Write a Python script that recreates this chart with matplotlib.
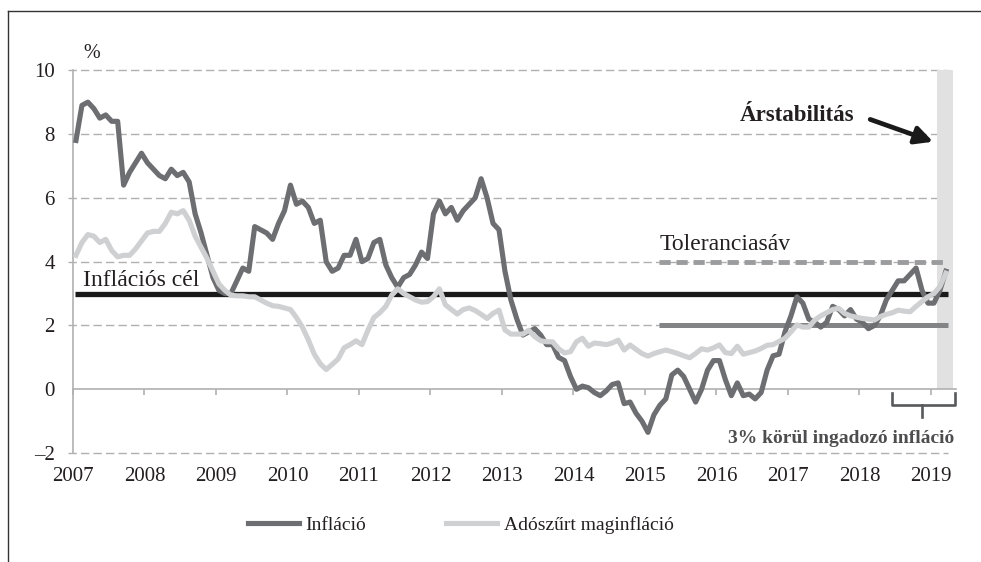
import matplotlib
matplotlib.use("Agg")
import matplotlib.pyplot as plt  # noqa: E402
from matplotlib.lines import Line2D  # noqa: E402
import pandas as pd  # noqa: E402

plt.rcParams["font.family"] = ["Liberation Serif", "DejaVu Serif"]

INK = "#231f20"
DARK = "#6d6e71"
LIGHT = "#cfd0d2"
GRID = "#b0b0b0"
BAND = "#e1e1e1"

MONTHS = pd.period_range("2007-01", "2019-03", freq="M")

INFLATION = [
    7.8, 8.9, 9.0, 8.8, 8.5, 8.6, 8.4, 8.4, 6.4, 6.8, 7.1, 7.4,          # 2007
    7.1, 6.9, 6.7, 6.6, 6.9, 6.7, 6.8, 6.5, 5.5, 4.9, 4.2, 3.5,          # 2008
    3.1, 3.0, 3.0, 3.4, 3.8, 3.7, 5.1, 5.0, 4.9, 4.7, 5.2, 5.6,          # 2009
    6.4, 5.8, 5.9, 5.7, 5.2, 5.3, 4.0, 3.7, 3.8, 4.2, 4.2, 4.7,          # 2010
    4.0, 4.1, 4.6, 4.7, 3.9, 3.5, 3.2, 3.5, 3.6, 3.9, 4.3, 4.1,          # 2011
    5.5, 5.9, 5.5, 5.7, 5.3, 5.6, 5.8, 6.0, 6.6, 6.0, 5.2, 5.0,          # 2012
    3.7, 2.8, 2.2, 1.7, 1.8, 1.9, 1.7, 1.4, 1.4, 1.0, 0.9, 0.4,          # 2013
    0.0, 0.1, 0.05, -0.1, -0.2, -0.05, 0.15, 0.2, -0.45, -0.4, -0.75, -1.0,  # 2014
    -1.35, -0.8, -0.5, -0.3, 0.45, 0.6, 0.4, 0.0, -0.4, 0.0, 0.6, 0.9,   # 2015
    0.9, 0.3, -0.2, 0.2, -0.2, -0.15, -0.3, -0.1, 0.6, 1.05, 1.1, 1.8,   # 2016
    2.3, 2.9, 2.7, 2.2, 2.1, 1.95, 2.1, 2.6, 2.5, 2.3, 2.5, 2.2,         # 2017
    2.1, 1.9, 2.0, 2.3, 2.8, 3.1, 3.4, 3.4, 3.6, 3.8, 3.1, 2.7,          # 2018
    2.7, 3.1, 3.7,                                                        # 2019
]

CORE = [
    4.2, 4.6, 4.85, 4.8, 4.6, 4.7, 4.35, 4.15, 4.2, 4.2, 4.4, 4.65,      # 2007
    4.9, 4.95, 4.95, 5.2, 5.55, 5.5, 5.6, 5.3, 4.8, 4.45, 4.1, 3.7,      # 2008
    3.3, 3.1, 2.95, 2.93, 2.93, 2.9, 2.9, 2.8, 2.7, 2.62, 2.6, 2.55,     # 2009
    2.5, 2.25, 1.95, 1.55, 1.1, 0.8, 0.62, 0.78, 0.95, 1.3, 1.4, 1.52,   # 2010
    1.4, 1.85, 2.25, 2.4, 2.6, 2.95, 3.15, 3.0, 2.9, 2.8, 2.73, 2.75,    # 2011
    2.9, 3.15, 2.65, 2.5, 2.36, 2.5, 2.55, 2.47, 2.35, 2.22, 2.38, 2.48, # 2012
    1.86, 1.73, 1.73, 1.73, 1.85, 1.65, 1.52, 1.49, 1.49, 1.27, 1.14, 1.18,  # 2013
    1.49, 1.6, 1.35, 1.45, 1.43, 1.4, 1.45, 1.54, 1.23, 1.39, 1.25, 1.12,    # 2014
    1.04, 1.12, 1.18, 1.23, 1.18, 1.12, 1.05, 0.99, 1.12, 1.27, 1.23, 1.3,   # 2015
    1.39, 1.15, 1.12, 1.35, 1.1, 1.15, 1.2, 1.28, 1.38, 1.4, 1.5, 1.6,       # 2016
    1.8, 2.02, 1.95, 1.95, 2.17, 2.3, 2.4, 2.5, 2.54, 2.38, 2.3, 2.26,       # 2017
    2.22, 2.2, 2.17, 2.28, 2.35, 2.4, 2.48, 2.45, 2.43, 2.6, 2.75, 2.9,      # 2018
    3.0, 3.22, 3.64,                                                          # 2019
]

TARGET = 3.0
TOL_LOW, TOL_HIGH = 2.0, 4.0
TOL_START = 2015.2
LINE_START, LINE_END = 2007.03, 2019.24
STABILITY_BAND = (2019.09, 2019.31)
YEARS = list(range(2007, 2020))
Y_TICKS = [-2, 0, 2, 4, 6, 8, 10]
GRID_LEVELS = [-2, 2, 4, 6, 8, 10]


def main():
    x = MONTHS.year + (MONTHS.month - 0.5) / 12

    fig = plt.figure(figsize=(9.81, 5.62), dpi=100)
    ax = fig.add_axes([0.0744, 0.1881, 0.9001, 0.6982])
    ax.set_xlim(2007, 2019.35)
    ax.set_ylim(-2.1, 10.2)

    for side in ("top", "right"):
        ax.spines[side].set_visible(False)
    ax.spines["bottom"].set_position(("data", 0))
    ax.spines["bottom"].set_color(GRID)
    ax.spines["bottom"].set_linewidth(1.2)
    ax.spines["left"].set_bounds(-2, 10)
    ax.spines["left"].set_color(GRID)
    ax.spines["left"].set_linewidth(1.2)

    ax.set_xticks(YEARS)
    ax.set_xticklabels([str(y) for y in YEARS])
    ax.tick_params(axis="x", direction="out", length=4, width=1.2, color=GRID,
                   pad=52, labelsize=15, labelcolor=INK)
    ax.set_yticks(Y_TICKS)
    ax.set_yticklabels([f"{v}".replace("-", "\u2013") for v in Y_TICKS])
    ax.tick_params(axis="y", length=0, pad=13, labelsize=15, labelcolor=INK)

    ax.hlines(GRID_LEVELS, 2006.93, LINE_END, colors=GRID, lw=1,
              linestyles=[(0, (6, 3))], zorder=0, clip_on=False)

    ax.fill_between(STABILITY_BAND, 0, 10, color=BAND, lw=0, zorder=1)

    ax.plot([LINE_START, LINE_END], [TARGET, TARGET], color="#1a1a1a", lw=3.8,
            solid_capstyle="butt", zorder=2)
    ax.plot([TOL_START, LINE_END], [TOL_HIGH, TOL_HIGH], color="#9b9c9e", lw=3.5,
            ls=(0, (2.3, 1.2)), zorder=2)
    ax.plot([TOL_START, LINE_END], [TOL_LOW, TOL_LOW], color="#838486", lw=3.6,
            solid_capstyle="butt", zorder=2)

    l_inf, = ax.plot(x, INFLATION, color=DARK, lw=3.7, solid_joinstyle="round",
                     label="Infláció", zorder=4)
    l_core, = ax.plot(x, CORE, color=LIGHT, lw=3.7, solid_joinstyle="round",
                      label="Adószűrt maginfláció", zorder=5)

    ax.text(2007.14, 10.39, "%", fontsize=14.5, color=INK, va="baseline")
    ax.text(2007.136, 3.24, "Inflációs cél", fontsize=17, color=INK, va="baseline")
    ax.text(2015.21, 4.37, "Toleranciasáv", fontsize=17, color=INK, va="baseline")
    ax.text(2016.33, 8.42, "Árstabilitás", fontsize=16.5, color=INK,
            fontweight="bold", va="baseline")
    ax.annotate("", xy=(2019.03, 7.76), xytext=(2018.15, 8.46),
                arrowprops=dict(arrowstyle="-|>,head_length=0.75,head_width=0.38",
                                lw=3.4, color="#1a1a1a", shrinkA=0, shrinkB=0,
                                mutation_scale=14))

    # bracket under the last months
    xl, xc, xr = 2018.45, 2018.878, 2019.33
    yt, ym, yb = -0.125, -0.49, -0.857
    ax.plot([xl, xl, xr, xr], [yt, ym, ym, yt], color="#58595b", lw=1.9,
            solid_joinstyle="round", clip_on=False, zorder=3)
    ax.plot([xc, xc], [ym, yb], color="#58595b", lw=1.9, clip_on=False, zorder=3)
    ax.text(xr, -1.69, "3% körül ingadozó infláció", fontsize=14, color="#4d4d4f",
            fontweight="bold", ha="right", va="baseline")

    fig.legend(handles=[l_inf, l_core], loc="center left",
               bbox_to_anchor=(248 / 981, 1 - 525 / 562), ncol=2, frameon=False,
               fontsize=14, handlelength=2.6, handletextpad=0.36, columnspacing=4.1,
               borderpad=0, borderaxespad=0, labelcolor=INK)

    top = 1 - 11 / 562
    left = 8 / 981
    fig.add_artist(Line2D([left, 1], [top, top], transform=fig.transFigure,
                          color="#333333", lw=1))
    fig.add_artist(Line2D([left, left], [0, top], transform=fig.transFigure,
                          color="#333333", lw=1))

    fig.savefig("out.png", dpi=100, facecolor="white")


if __name__ == "__main__":
    main()
